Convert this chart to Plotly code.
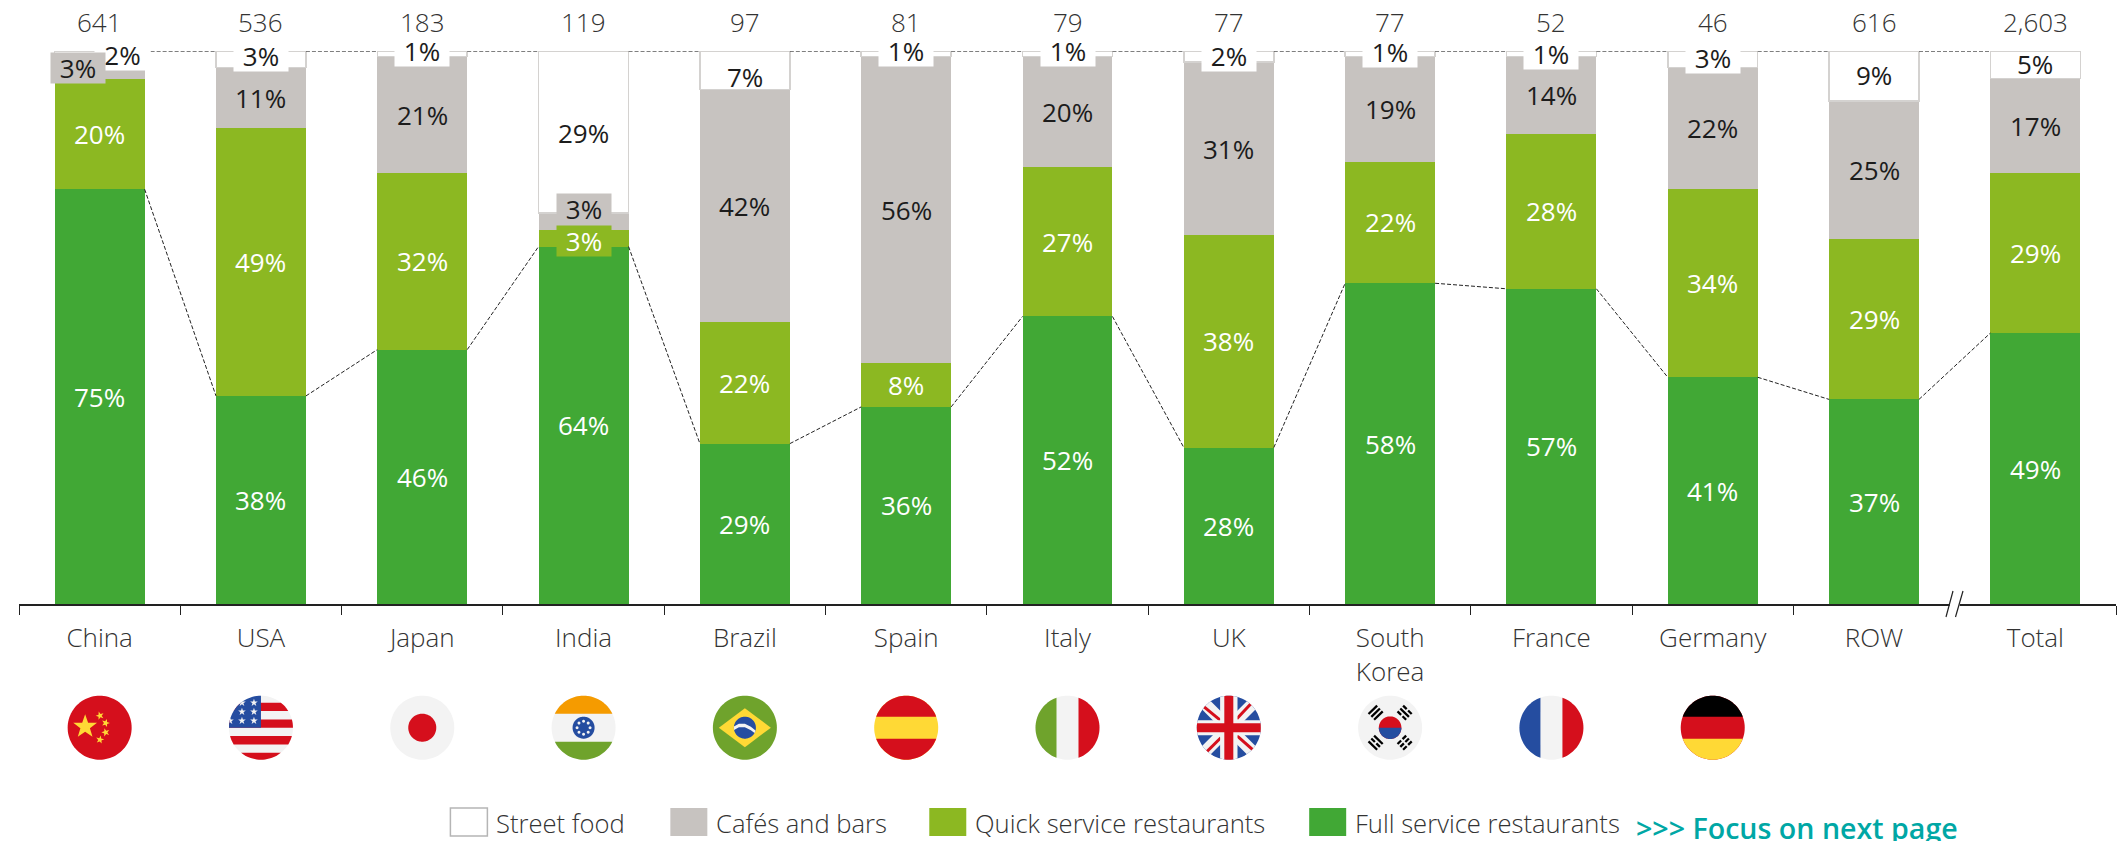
import numpy as np
import plotly.graph_objects as go

# ---- data ----
countries = ["China", "USA", "Japan", "India", "Brazil", "Spain", "Italy", "UK",
             "South<br>Korea", "France", "Germany", "ROW", "Total"]
market_totals = ["641", "536", "183", "119", "97", "81", "79", "77", "77", "52", "46", "616", "2,603"]
full_service = [75, 38, 46, 64, 29, 36, 52, 28, 58, 57, 41, 37, 49]
quick_service = [20, 49, 32, 3, 22, 8, 27, 38, 22, 28, 34, 29, 29]
cafes_bars = [3, 11, 21, 3, 42, 56, 20, 31, 19, 14, 22, 25, 17]
street_food = [2, 3, 1, 29, 7, 1, 1, 2, 1, 1, 3, 9, 5]

# ---- palette ----
GREEN, LIME, GREY = "#41a835", "#8cb822", "#c7c3c0"
WHITE, EDGE, INK, SOFT_INK, TEAL = "#ffffff", "#d4d2d0", "#1c1c1c", "#333333", "#00a7a5"
RED, BLUE, YELLOW, FLAG_WHITE, FLAG_GREEN = "#d50f1c", "#254da0", "#ffd935", "#f3f3f3", "#6fa32c"
ORANGE = "#f59b00"

# ---- canvas geometry, in page pixels ----
W, H = 2118, 841
LEFT, RIGHT, TOP, BASE = 18.5, 2116, 51, 604
FLAG_Y = 727.7
BAR_WIDTH = 0.5575
FONT = "Open Sans"
LABEL_SIZE = 26


def px_x(v):
    return (v - LEFT) / (RIGHT - LEFT)


def px_y(v):
    return (BASE - v) / (BASE - TOP)


xs = list(range(len(countries)))
series = [
    ("Full service restaurants", full_service, GREEN, WHITE),
    ("Quick service restaurants", quick_service, LIME, WHITE),
    ("Cafés and bars", cafes_bars, GREY, INK),
    ("Street food", street_food, WHITE, INK),
]

fig = go.Figure()
for name, vals, color, _ in series:
    fig.add_bar(
        x=xs, y=vals, name=name, width=BAR_WIDTH, cliponaxis=False,
        marker=dict(color=color, line=dict(color=EDGE if color == WHITE else color,
                                           width=1.5 if color == WHITE else 0)),
        hoverinfo="name+y",
    )

# Columns are normalised to 100, so shares below are computed the same way.
stack_sum = np.array([sum(s[1][i] for s in series) for i in xs], dtype=float)
green_top = np.array(full_service) / stack_sum * 100

half = BAR_WIDTH / 2
link_x, link_y, rim_x, rim_y = [], [], [], []
for i in xs[:-1]:
    link_x += [i + half, i + 1 - half, None]
    link_y += [green_top[i], green_top[i + 1], None]
    rim_x += [i + half, i + 1 - half, None]
    rim_y += [100, 100, None]
fig.add_scatter(x=link_x, y=link_y, mode="lines", cliponaxis=False, hoverinfo="skip",
                line=dict(color="#222222", width=1, dash="4px,2px"))
fig.add_scatter(x=rim_x, y=rim_y, mode="lines", cliponaxis=False, hoverinfo="skip",
                line=dict(color="#555555", width=1.5, dash="4px,2px"))

# ---- value labels ----
# Offsets (dx, dy in px, dy up) lift cramped labels off their segments, with a patch behind them.
top_nudges = {0: (23, 1.5, WHITE), 1: (0, 3, WHITE), 2: (0, 3, WHITE), 3: (0, -1, None),
              4: (0, -7, None), 5: (0, 2.5, WHITE), 6: (0, 2.5, WHITE), 7: (0, 1, WHITE),
              8: (0, 2, WHITE), 9: (0, 0, WHITE), 10: (0, 1.5, WHITE), 11: (0, 1, None),
              12: (0, 1, None)}
side_nudges = {(2, 0): (-22, 2, GREY), (2, 3): (0, 12, GREY), (1, 3): (0, -3, LIME)}

annotations = []
for i in xs:
    floor = 0.0
    for k, (_, vals, _, txt_color) in enumerate(series):
        share = vals[i] / stack_sum[i] * 100
        dx, dy, patch = (top_nudges[i] if k == 3 else side_nudges.get((k, i), (0, 0, None)))
        note = dict(x=i, y=floor + share / 2, xshift=dx, yshift=dy, showarrow=False,
                    text=f"{vals[i]}%", font=dict(family=FONT, size=LABEL_SIZE, color=txt_color),
                    xanchor="center", yanchor="middle")
        if patch:
            note.update(bgcolor=patch, width=54, height=30, borderpad=0, valign="middle",
                        align="center")
        annotations.append(note)
        floor += share

# The China street-food patch reaches past the column edge, so it is drawn before the cafés one.
annotations.sort(key=lambda a: 0 if (a["x"] == 0 and a["xshift"] > 0) else 1)
for n in annotations:
    if n["x"] == 0 and n["xshift"] > 0:
        n["width"] = 55

for i, total in zip(xs, market_totals):
    annotations.append(dict(x=i, y=100, yshift=29, showarrow=False, text=total, xanchor="center",
                            yanchor="middle",
                            font=dict(family=FONT, size=LABEL_SIZE, color=SOFT_INK, weight=300)))

# ---- flags: polygons clipped to a disc, in pixels around the flag centre ----
R = 32


def circle(r=R, cx=0.0, cy=0.0, n=96):
    t = np.linspace(0, 2 * np.pi, n, endpoint=False)
    return [(cx + r * np.cos(a), cy + r * np.sin(a)) for a in t]


def clip(poly, window):
    """Sutherland-Hodgman clip of poly against a counter-clockwise convex window."""
    out = list(poly)
    for j in range(len(window)):
        ax, ay = window[j]
        bx, by = window[(j + 1) % len(window)]
        inside = lambda p: (bx - ax) * (p[1] - ay) - (by - ay) * (p[0] - ax) >= 0
        src, out = out, []
        for m in range(len(src)):
            p, q = src[m], src[(m + 1) % len(src)]
            if inside(p) != inside(q):
                d = (q[0] - p[0], q[1] - p[1])
                num = (bx - ax) * (p[1] - ay) - (by - ay) * (p[0] - ax)
                den = (by - ay) * d[0] - (bx - ax) * d[1]
                s = num / den
                cross = (p[0] + s * d[0], p[1] + s * d[1])
                if inside(p):
                    out.append(cross)
                else:
                    out += [cross, q]
            elif inside(p):
                out.append(q)
        if not out:
            return []
    return out


def rect(x0, y0, x1, y1):
    return [(x0, y0), (x1, y0), (x1, y1), (x0, y1)]


def star(cx, cy, r, turn=0.0):
    pts = []
    for k in range(10):
        rad = r if k % 2 == 0 else r * 0.4
        a = np.pi / 2 + turn + k * np.pi / 5
        pts.append((cx + rad * np.cos(a), cy + rad * np.sin(a)))
    return pts


def bar_between(p, q, hw):
    (x0, y0), (x1, y1) = p, q
    n = np.hypot(x1 - x0, y1 - y0)
    ox, oy = -(y1 - y0) / n * hw, (x1 - x0) / n * hw
    return [(x0 + ox, y0 + oy), (x0 - ox, y0 - oy), (x1 - ox, y1 - oy), (x1 + ox, y1 + oy)]


def china():
    parts = [(circle(), RED), (star(-14.5, 1, 12.5), YELLOW)]
    for sx, sy, turn in [(0.3, 12, 0.3), (6, 4.7, -0.3), (6, -4.7, 0.3), (0.3, -12, -0.2)]:
        parts.append((star(sx, sy, 4.3, turn), YELLOW))
    return parts


def usa():
    parts = [(circle(), FLAG_WHITE)]
    for y0, y1 in [(16.7, 25), (0, 8.3), (-16.7, -8.3), (-33, -25)]:
        parts.append((rect(-33, y0, 33, y1), RED))
    parts.append((rect(-33, 0, 0, 33), BLUE))
    for sx, sy in [(-7, 25), (-19, 25), (-19, 16), (-7, 16), (-19, 7), (-7, 7), (-31, 7)]:
        parts.append((star(sx, sy, 4), FLAG_WHITE))
    return parts


def japan():
    return [(circle(), FLAG_WHITE), (circle(14), RED)]


def india():
    parts = [(circle(), FLAG_WHITE), (rect(-33, 14, 33, 33), ORANGE),
             (rect(-33, -33, 33, -14), FLAG_GREEN), (circle(11), BLUE)]
    for k in range(8):
        a = k * np.pi / 4
        parts.append((circle(1.5, 6.5 * np.cos(a), 6.5 * np.sin(a), 12), FLAG_WHITE))
    return parts


def brazil():
    ball = circle(11)
    swoosh = [(-12, 0.5), (-6, 4), (0, 4), (6, 1), (12, -4), (12, -7), (6, -2.5), (0, 0.5), (-6, 0.5), (-12, -3)]
    return [(circle(), FLAG_GREEN), ([(26, 0), (0, 19.5), (-26, 0), (0, -19.5)], YELLOW),
            (ball, BLUE), (clip(swoosh[::-1], ball), FLAG_WHITE)]


def h_tricolour(top, mid, low):
    return [(circle(), mid), (rect(-33, 11, 33, 33), top), (rect(-33, -33, 33, -11), low)]


def v_tricolour(left, mid, right):
    return [(circle(), mid), (rect(-33, -33, -11, 33), left), (rect(11, -33, 33, 33), right)]


def uk():
    parts = [(circle(), BLUE)]
    for sign in (1, -1):
        parts.append((bar_between((-33, -33 * sign), (33, 33 * sign), 6), FLAG_WHITE))
    for a, b in [((-25, 21), (-8, 7)), ((8, 9), (23, 25)), ((-22, -24), (-8, -10)), ((8, -8), (24, -22))]:
        parts.append((bar_between(a, b, 1.5), RED))
    parts += [(rect(-8.7, -33, 8.7, 33), FLAG_WHITE), (rect(-33, -7.5, 33, 7.5), FLAG_WHITE),
              (rect(-4.5, -33, 4.5, 33), RED), (rect(-33, -4.5, 33, 4.5), RED)]
    return parts


def korea():
    parts = [(circle(), FLAG_WHITE), (circle(11.3), RED), (clip(rect(-12, -12, 12, 0), circle(11.3)), BLUE)]
    # Each trigram lists its three strokes as solid (True) or broken (False).
    trigrams = [((-14.5, 15), (True, True, True)), ((14.5, 15), (False, True, False)),
                ((-14.5, -15), (True, False, True)), ((14.5, -15), (False, False, False))]
    for (cx, cy), strokes in trigrams:
        radial = np.array([cx, cy]) / np.hypot(cx, cy)
        along = np.array([-radial[1], radial[0]])
        centre = np.array([cx, cy])
        for offset, solid in zip((-4, 0, 4), strokes):
            c = centre + radial * offset
            spans = [(-6, 6)] if solid else [(-6, -1), (1, 6)]
            for a, b in spans:
                parts.append((bar_between(tuple(c + along * a), tuple(c + along * b), 1.15), "#000000"))
    return parts


flag_parts = {
    0: china(), 1: usa(), 2: japan(), 3: india(), 4: brazil(),
    5: h_tricolour(RED, YELLOW, RED), 6: v_tricolour(FLAG_GREEN, FLAG_WHITE, RED), 7: uk(), 8: korea(),
    9: v_tricolour(BLUE, FLAG_WHITE, RED), 10: h_tricolour("#000000", RED, YELLOW),
}

disc = circle()
shapes = []
for i, parts in flag_parts.items():
    for poly, color in parts:
        poly = clip(poly, disc)
        if len(poly) < 3:
            continue
        path = "M" + "L".join(f"{x:.2f},{y:.2f}" for x, y in poly) + "Z"
        shapes.append(dict(type="path", path=path, xref="x", yref="paper", xsizemode="pixel",
                           ysizemode="pixel", xanchor=i, yanchor=px_y(FLAG_Y),
                           fillcolor=color, line=dict(width=0), layer="above"))

# ---- axis break before the Total column ----
break_x = 11.5
shapes.append(dict(type="path", path="M-5,-2.5L5,-2.5L5,2.5L-5,2.5Z", xref="x", yref="paper",
                   xsizemode="pixel", ysizemode="pixel", xanchor=break_x, yanchor=0,
                   fillcolor=WHITE, line=dict(width=0), layer="above"))
for a, b in [(-8.7, -1.7), (0.8, 8.3)]:
    shapes.append(dict(type="path", path=f"M{a},-13L{b},13", xref="x", yref="paper",
                       xsizemode="pixel", ysizemode="pixel", xanchor=break_x, yanchor=0,
                       line=dict(color="#222222", width=1.2), layer="above"))

# ---- hand-placed key along the bottom ----
key = [("Street food", WHITE, 450, 496), ("Cafés and bars", GREY, 670, 716),
       ("Quick service restaurants", LIME, 929, 974.5), ("Full service restaurants", GREEN, 1309, 1355)]
for label, color, sx, tx in key:
    shapes.append(dict(type="rect", xref="paper", yref="paper", x0=px_x(sx), x1=px_x(sx + 37),
                       y0=px_y(836), y1=px_y(808), fillcolor=color, layer="above",
                       line=dict(color="#b5b5b5" if color == WHITE else color,
                                 width=1.5 if color == WHITE else 0)))
    annotations.append(dict(xref="paper", yref="paper", x=px_x(tx - 2), y=px_y(823), text=label,
                            showarrow=False, xanchor="left", yanchor="middle",
                            font=dict(family=FONT, size=25.6, color=SOFT_INK, weight=300)))
annotations.append(dict(xref="paper", yref="paper", x=px_x(1634), y=px_y(827),
                        text=">>> Focus on next page", showarrow=False, xanchor="left", yanchor="middle",
                        font=dict(family=FONT, size=28.6, color=TEAL, weight=600)))

fig.update_layout(
    width=W, height=H, autosize=False, barmode="stack", barnorm="percent", showlegend=False,
    margin=dict(l=LEFT, r=W - RIGHT, t=TOP, b=H - BASE, pad=0),
    paper_bgcolor=WHITE, plot_bgcolor=WHITE,
    annotations=annotations, shapes=shapes,
    xaxis=dict(range=[-0.5, 12.5], tickmode="array", tickvals=xs, ticktext=countries, ticks="",
               ticklabelstandoff=10, showgrid=False, zeroline=False, showline=True,
               linecolor="#222222", linewidth=1.5,
               tickfont=dict(family=FONT, size=LABEL_SIZE, color=SOFT_INK, weight=300),
               minor=dict(tickmode="array",
                          tickvals=[i - 0.5 for i in xs if i != 12] + [12.5],
                          ticks="outside", ticklen=9, tickwidth=1.2, tickcolor="#222222",
                          showgrid=False)),
    yaxis=dict(range=[0, 100], visible=False, showgrid=False, zeroline=False),
    hovermode="closest",
)

fig.write_html("out.html")
